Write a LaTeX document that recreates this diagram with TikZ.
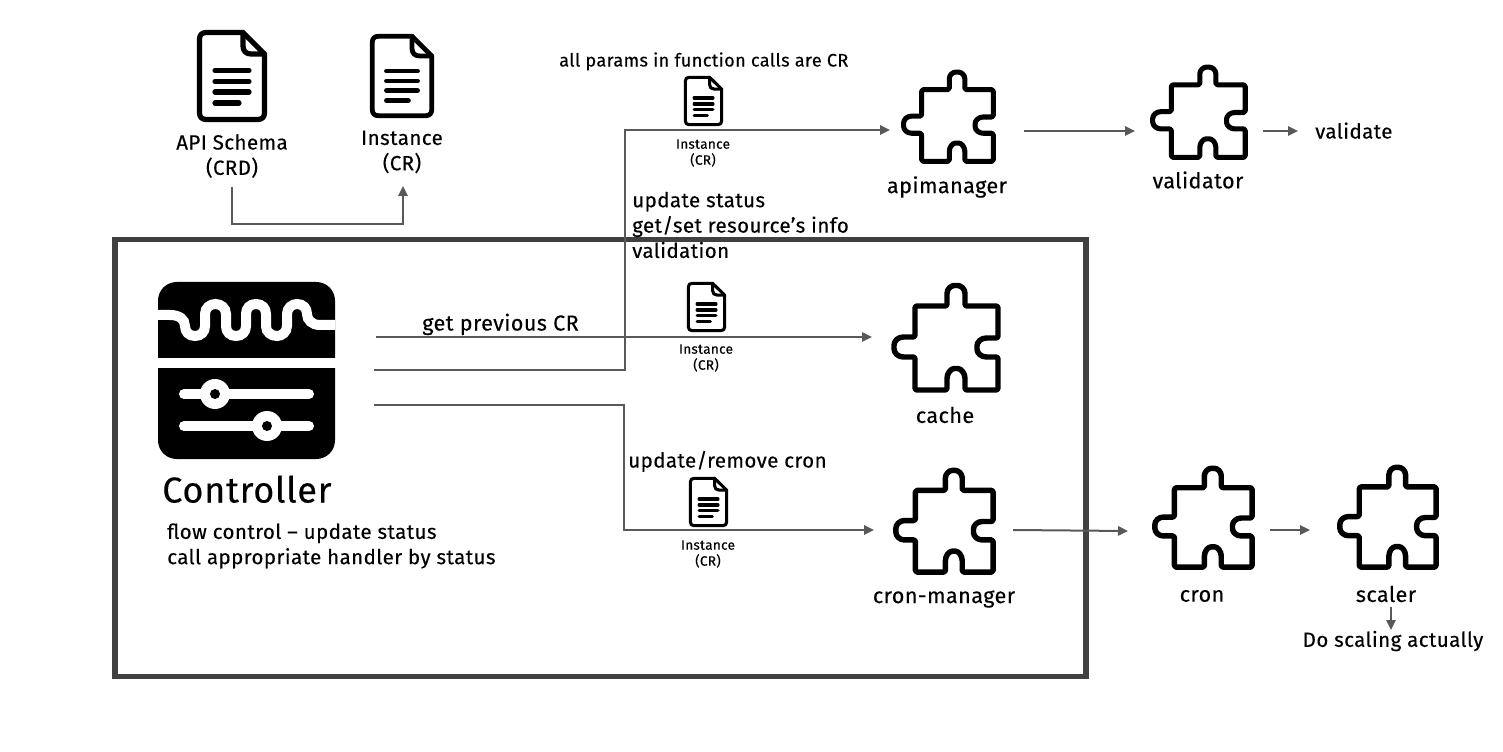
\documentclass[tikz,border=0pt]{standalone}
\usepackage{fontspec}
\setmainfont{Fira Sans}[LetterSpace=2,FakeBold=0.25]
\usetikzlibrary{arrows.meta}
\definecolor{conn}{HTML}{595959}
\definecolor{frame}{HTML}{404040}
\tikzset{
  connector/.style={draw=conn,line width=1.5pt,-{Triangle[length=7.5pt,width=7pt]}},
  lbl/.style={inner sep=0pt,font=\fontsize{15.4}{19}\selectfont,text=black},
  iconlbl/.style={inner sep=0pt,font=\fontsize{16.2}{19}\selectfont,text=black},
  smalllbl/.style={inner sep=0pt,align=center,font=\fontsize{10.2}{12}\selectfont,text=black},
  piece/.style={draw=black,line width=#1,line join=round,fill=white,rounded corners=1.2pt},
}
\newcommand{\puzzleicon}[6]{% name, x0,y0,x1,y1 outer box, lw
  \pgfmathsetmacro{\sx}{(#4-#2)/109}
  \pgfmathsetmacro{\sy}{(#5-#3)/110}
  \node[inner sep=0pt,minimum width=#4*.75pt-#2*.75pt,minimum height=#5*.75pt-#3*.75pt] (#1) at ({(#2+#4)/2},{(#3+#5)/2}) {};
  \begin{scope}[shift={(#2,#3)},xscale=\sx,yscale=\sy,shift={(-11,-13)}]
    \draw[piece=#6] (35,36) -- (67,36) -- (67,25)
      .. controls (67,19) and (71,15.5) .. (76,15.5)
      .. controls (81,15.5) and (85,19) .. (85,25) -- (85,36) -- (118,36) -- (118,68) -- (108,68)
      .. controls (101,68) and (97,72) .. (97,77.5)
      .. controls (97,83) and (101,87) .. (108,87) -- (118,87) -- (118,120) -- (85,120) -- (85,110)
      .. controls (85,103) and (81,98.5) .. (76,98.5)
      .. controls (71,98.5) and (67,103) .. (67,110) -- (67,120) -- (35,120) -- (35,87) -- (25,87)
      .. controls (18,87) and (14,83) .. (14,77)
      .. controls (14,71) and (18,67) .. (25,67) -- (35,67) -- cycle;
  \end{scope}
}
\newcommand{\docicon}[6]{% name,x0,y0,x1,y1,lw
  \pgfmathsetmacro{\sx}{(#4-#2)/70}
  \pgfmathsetmacro{\sy}{(#5-#3)/92}
  \node[inner sep=0pt,minimum width=#4*.75pt-#2*.75pt,minimum height=#5*.75pt-#3*.75pt] (#1) at ({(#2+#4)/2},{(#3+#5)/2}) {};
  \begin{scope}[shift={(#2,#3)},xscale=\sx,yscale=\sy]
    \draw[draw=black,line width=#6,line join=round,line cap=round]
      (9,2.5) -- (46,2.5) -- (67.5,24) -- (67.5,83)
      .. controls (67.5,87) and (65,89.5) .. (61,89.5) -- (9,89.5)
      .. controls (5,89.5) and (2.5,87) .. (2.5,83) -- (2.5,9)
      .. controls (2.5,5) and (5,2.5) .. (9,2.5) -- cycle;
    \draw[draw=black,line width=#6,line join=round,line cap=round]
      (46,2.5) -- (46,16) .. controls (46,21) and (49,24) .. (54,24) -- (67.5,24);
    \draw[draw=black,line width=#6,line cap=round]
      (18,40.5) -- (52,40.5) (18,51.5) -- (52,51.5) (18,62) -- (52,62) (18,73) -- (42,73);
  \end{scope}
}
\begin{document}
\begin{tikzpicture}[x=0.75pt,y=-0.75pt]
\path[use as bounding box,fill=white] (0,0) rectangle (1503,752);

% frame
\node[draw=frame,line width=4.2pt,fill=none,inner sep=0pt,minimum width=728.5pt,minimum height=327.5pt] (frameBox) at (600.5,458) {};

% document icons
\docicon{docSchema}{197}{30}{267}{122}{3.9pt}
\docicon{docInstance}{370}{34}{434}{118}{3.6pt}
\docicon{docTop}{684}{76}{723}{126}{2.3pt}
\docicon{docMid}{687}{282}{726}{332}{2.3pt}
\docicon{docBot}{689}{477}{728}{527}{2.3pt}

% controller icon
\node[fill=black,rounded corners=14pt,inner sep=0pt,minimum width=132.75pt,minimum height=132.75pt] (ctrl) at (246.5,370.5) {};
\fill[white] (157,358) rectangle (336,368);
\draw[white,line width=7.5pt] (158,315) -- (170,315)
  .. controls (179,315) and (185,319) .. (185,326)
  .. controls (185,332) and (189,336) .. (195,336)
  .. controls (201,336) and (205,332) .. (205,326) -- (205,314)
  .. controls (205,308) and (210,304) .. (215.5,304)
  .. controls (221,304) and (226,308) .. (226,314) -- (226,326)
  .. controls (226,332) and (230,336) .. (236,336)
  .. controls (242,336) and (246,332) .. (246,326) -- (246,314)
  .. controls (246,308) and (250,304) .. (256,304)
  .. controls (262,304) and (266,308) .. (266,314) -- (266,326)
  .. controls (266,332) and (271,336) .. (277,336)
  .. controls (282,336) and (287,332) .. (287,326) -- (287,314)
  .. controls (287,308) and (292,304) .. (297,304)
  .. controls (303,304) and (307,308) .. (307,314)
  .. controls (307,320) and (312,325) .. (320,325) -- (335,325);
\draw[white,line width=7.5pt,line cap=round] (184,394) -- (309,394);
\draw[white,line width=7.5pt,line cap=round] (184,426) -- (309,426);
\fill[white] (215,394) circle[radius=15];
\fill[black] (215,394) circle[radius=5];
\fill[white] (267,426) circle[radius=15];
\fill[black] (267,426) circle[radius=5];

% puzzle icons
\puzzleicon{apimanager}{901}{70}{995}{164}{3.8pt}
\puzzleicon{validator}{1150}{65}{1247}{160}{3.8pt}
\puzzleicon{cache}{891}{283}{1000}{393}{4.1pt}
\puzzleicon{cronmanager}{893}{468}{995}{575}{4.1pt}
\puzzleicon{cron}{1152}{466}{1254}{570}{4.1pt}
\puzzleicon{scaler}{1337}{465}{1438}{570}{4.1pt}

% labels
\node[lbl,align=center] (tSchema) at (232,156) {API Schema\\(CRD)};
\node[lbl,align=center] (tInstance) at (402,152) {Instance\\(CR)};
\node[lbl,anchor=mid west,font=\fontsize{13.6}{16}\selectfont] (tAll) at (559,63) {all params in function calls are CR};
\node[smalllbl] (tTop) at (703,153) {Instance\\(CR)};
\node[smalllbl] (tMid) at (706,358) {Instance\\(CR)};
\node[smalllbl] (tBot) at (708,554) {Instance\\(CR)};
\node[lbl,align=left,anchor=west] (tUpdate) at (632,225) {update status\\get/set resource's info\\validation};
\node[iconlbl] (tApi) at (947,187) {apimanager};
\node[iconlbl] (tVal) at (1198,180) {validator};
\node[lbl,anchor=mid west] (tValidate) at (1315,135) {validate};
\node[iconlbl] (tCache) at (945,415) {cache};
\node[iconlbl] (tCronM) at (944,599) {cron-manager};
\node[iconlbl] (tCron) at (1202,596) {cron};
\node[iconlbl] (tScaler) at (1386,594) {scaler};
\node[lbl] (tDo) at (1393,641) {Do scaling actually};
\node[lbl,anchor=mid west,font=\fontsize{27}{30}\selectfont] (tController) at (162,499) {Controller};
\node[lbl,align=left,anchor=west] (tFlow) at (167,546) {flow control – update status\\call appropriate handler by status};
\node[iconlbl,anchor=mid west] (tPrev) at (422,327) {get previous CR};
\node[lbl,anchor=mid west] (tCronUp) at (628,464) {update/remove cron};

% connector ends
\coordinate (a1) at (232,187);
\coordinate (a2) at (403,186);
\coordinate (b1) at (374,370);
\coordinate (b2) at (890,130);
\coordinate (c1) at (376,337);
\coordinate (c2) at (872,337);
\coordinate (d1) at (374,405);
\coordinate (d2) at (874,530);
\coordinate (e1) at (1024,131);
\coordinate (e2) at (1135,131);
\coordinate (f1) at (1263,131);
\coordinate (f2) at (1298,131);
\coordinate (g1) at (1013,530);
\coordinate (g2) at (1128,531);
\coordinate (h1) at (1270,530);
\coordinate (h2) at (1310,530);
\coordinate (i1) at (1391,607);
\coordinate (i2) at (1391,630);

\draw[connector] (a1) -- (232,224) -- (403,224) -- (a2);
\draw[connector] (b1) -- (625,370) -- (625,130) -- (b2);
\draw[connector] (c1) -- (c2);
\draw[connector] (d1) -- (624,405) -- (624,530) -- (d2);
\draw[connector] (e1) -- (e2);
\draw[connector] (f1) -- (f2);
\draw[connector] (g1) -- (g2);
\draw[connector] (h1) -- (h2);
\draw[connector] (i1) -- (i2);
\end{tikzpicture}
\end{document}
